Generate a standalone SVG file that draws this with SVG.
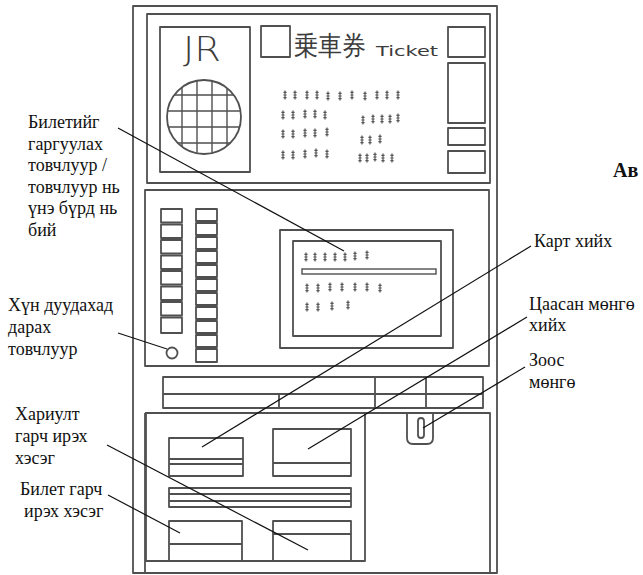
<svg xmlns="http://www.w3.org/2000/svg" xmlns:xlink="http://www.w3.org/1999/xlink" width="643" height="575" viewBox="0 0 643 575">
  <style>
    .sk { fill: none; stroke: #505050; stroke-width: 1.8; stroke-linejoin: round; }
    .thin { fill: none; stroke: #505050; stroke-width: 1.4; }
    .lead { fill: none; stroke: #111; stroke-width: 1.2; }
    .lbl { font-family: "Liberation Serif", "Times New Roman", serif; font-size: 18px; fill: #111; }
    .hand { font-family: "DejaVu Sans", "Liberation Sans", sans-serif; fill: #3c3c3c; }
  </style>
  <defs>
    <!-- small squiggle standing for printed characters -->
    <g id="mk">
      <path d="M0,-4.5 V4.5 M-1.6,-2.6 H1.6 M-1.6,0 H1.6 M-1.6,2.6 H1.6" fill="none" stroke="#555" stroke-width="1.2"/>
    </g>
    <clipPath id="globe">
      <circle cx="204" cy="117" r="37"/>
    </clipPath>
  </defs>

  <rect width="643" height="575" fill="#fff"/>

  <!-- machine body -->
  <g id="body">
    <rect class="sk" x="133" y="6" width="364" height="567"/>
  </g>

  <!-- upper panel: logo, title, fare table -->
  <g id="top-panel">
    <rect class="sk" x="147" y="14" width="343" height="169"/>
    <rect class="sk" x="160" y="27" width="90" height="145"/>
    <text class="hand" x="183" y="61" font-size="34" textLength="38" lengthAdjust="spacingAndGlyphs" font-weight="300">JR</text>
    <g clip-path="url(#globe)" class="thin">
      <path d="M182,70 V165 M197,70 V165 M212,70 V165 M227,70 V165 M160,95 H250 M160,111 H250 M160,127 H250 M160,143 H250"/>
    </g>
    <circle class="sk" cx="204" cy="117" r="37"/>
    <rect class="sk" x="261" y="26" width="29" height="31"/>
    <text class="hand" x="294" y="55" font-size="27" textLength="72" lengthAdjust="spacingAndGlyphs" font-family="'Noto Sans CJK JP', sans-serif">乗車券</text>
    <text class="hand" x="376" y="56" font-size="14" textLength="62" lengthAdjust="spacingAndGlyphs">Ticket</text>
    <rect class="sk" x="448" y="27" width="37" height="30"/>
    <rect class="sk" x="448" y="63" width="37" height="60"/>
    <rect class="sk" x="448" y="128" width="37" height="17"/>
    <rect class="sk" x="448" y="151" width="37" height="22"/>
    <g id="fare-table">
      <use xlink:href="#mk" x="285" y="95"/><use xlink:href="#mk" x="295" y="95"/><use xlink:href="#mk" x="307" y="95"/><use xlink:href="#mk" x="317" y="95"/><use xlink:href="#mk" x="328" y="96"/><use xlink:href="#mk" x="340" y="96"/><use xlink:href="#mk" x="352" y="95"/><use xlink:href="#mk" x="365" y="96"/><use xlink:href="#mk" x="377" y="95"/><use xlink:href="#mk" x="387" y="95"/><use xlink:href="#mk" x="398" y="95"/>
      <use xlink:href="#mk" x="283" y="115"/><use xlink:href="#mk" x="293" y="115"/><use xlink:href="#mk" x="305" y="114"/><use xlink:href="#mk" x="315" y="114"/><use xlink:href="#mk" x="325" y="115"/>
      <use xlink:href="#mk" x="363" y="120"/><use xlink:href="#mk" x="373" y="119"/><use xlink:href="#mk" x="382" y="119"/><use xlink:href="#mk" x="390" y="119"/><use xlink:href="#mk" x="398" y="118"/>
      <use xlink:href="#mk" x="283" y="134"/><use xlink:href="#mk" x="293" y="134"/><use xlink:href="#mk" x="305" y="133"/><use xlink:href="#mk" x="315" y="133"/><use xlink:href="#mk" x="327" y="132"/>
      <use xlink:href="#mk" x="362" y="140"/><use xlink:href="#mk" x="370" y="140"/><use xlink:href="#mk" x="380" y="139"/>
      <use xlink:href="#mk" x="283" y="155"/><use xlink:href="#mk" x="293" y="155"/><use xlink:href="#mk" x="305" y="154"/><use xlink:href="#mk" x="316" y="153"/><use xlink:href="#mk" x="327" y="154"/>
      <use xlink:href="#mk" x="360" y="158"/><use xlink:href="#mk" x="367" y="158"/><use xlink:href="#mk" x="375" y="157"/><use xlink:href="#mk" x="383" y="158"/><use xlink:href="#mk" x="392" y="158"/>
    </g>
  </g>

  <!-- middle panel: fare buttons, call button, display -->
  <g id="middle-panel">
    <rect class="sk" x="145" y="190" width="344" height="176"/>
    <g id="fare-buttons-left" class="sk">
      <rect x="161" y="209" width="21" height="13.5"/>
      <rect x="161" y="224.5" width="21" height="13.5"/>
      <rect x="161" y="240" width="21" height="13.5"/>
      <rect x="161" y="255.5" width="21" height="13.5"/>
      <rect x="161" y="271" width="21" height="13.5"/>
      <rect x="161" y="286.5" width="21" height="13.5"/>
      <rect x="161" y="302" width="21" height="13.5"/>
      <rect x="161" y="317.5" width="21" height="15.5"/>
    </g>
    <g id="fare-buttons-right" class="sk">
      <rect x="196" y="209" width="21" height="12"/>
      <rect x="196" y="223" width="21" height="12"/>
      <rect x="196" y="237" width="21" height="12"/>
      <rect x="196" y="251" width="21" height="12"/>
      <rect x="196" y="265" width="21" height="12"/>
      <rect x="196" y="279" width="21" height="12"/>
      <rect x="196" y="293" width="21" height="12"/>
      <rect x="196" y="307" width="21" height="12"/>
      <rect x="196" y="321" width="21" height="12"/>
      <rect x="196" y="335" width="21" height="12"/>
      <rect x="196" y="349" width="21" height="13"/>
    </g>
    <circle class="sk" cx="172" cy="353" r="5.5"/>
    <g id="display">
      <rect class="sk" x="280" y="230" width="173" height="118"/>
      <rect class="sk" x="293" y="241" width="148" height="95"/>
      <rect class="thin" x="302" y="269" width="134" height="5"/>
      <use xlink:href="#mk" x="306" y="257"/><use xlink:href="#mk" x="315" y="257"/><use xlink:href="#mk" x="325" y="257"/><use xlink:href="#mk" x="335" y="257"/><use xlink:href="#mk" x="345" y="257"/><use xlink:href="#mk" x="355" y="256"/><use xlink:href="#mk" x="367" y="255"/>
      <use xlink:href="#mk" x="307" y="288"/><use xlink:href="#mk" x="318" y="288"/><use xlink:href="#mk" x="330" y="287"/><use xlink:href="#mk" x="342" y="287"/><use xlink:href="#mk" x="355" y="287"/><use xlink:href="#mk" x="367" y="287"/><use xlink:href="#mk" x="380" y="288"/>
      <use xlink:href="#mk" x="307" y="307"/><use xlink:href="#mk" x="318" y="307"/><use xlink:href="#mk" x="332" y="306"/><use xlink:href="#mk" x="348" y="305"/>
    </g>
  </g>

  <!-- ledge between panels -->
  <g id="ledge">
    <rect class="sk" x="163" y="377" width="320" height="31"/>
    <path class="sk" d="M163,394 H483 M375,377 V408 M426,377 V408 M279,394 V408"/>
  </g>

  <!-- coin slot -->
  <g id="coin-slot">
    <path class="sk" d="M407,414 V438 Q407,444 413,444 H427 Q433,444 433,438 V414"/>
    <rect class="sk" x="418" y="418" width="6" height="20" rx="3"/>
  </g>

  <!-- lower section: card slot, note slot, change and ticket trays -->
  <g id="lower-panel">
    <path class="sk" d="M145,413 H490 V572 M145,413 V572"/>
    <path class="sk" d="M146,413 V561 H365 V413"/>
    <rect class="sk" x="169" y="438" width="74" height="38"/>
    <path class="sk" d="M169,459 H243 M169,464 H243"/>
    <rect class="sk" x="273" y="429" width="78" height="47"/>
    <path class="sk" d="M273,463 H351"/>
    <rect class="sk" x="169" y="488" width="182" height="19"/>
    <path class="sk" d="M169,494 H351 M169,501 H351"/>
    <path class="sk" d="M169,561 V521 H242 V561 M169,544 H242"/>
    <path class="sk" d="M273,561 V521 H351 V561 M273,534 H351"/>
  </g>

  <!-- leader lines -->
  <g id="connectors" class="lead">
    <line x1="118" y1="128" x2="344" y2="251"/>
    <line x1="118" y1="333" x2="167" y2="349"/>
    <line x1="531" y1="246" x2="202" y2="447"/>
    <line x1="527" y1="317" x2="308" y2="449"/>
    <line x1="525" y1="367" x2="423" y2="428"/>
    <line x1="107" y1="445" x2="308" y2="550"/>
    <line x1="108" y1="495" x2="180" y2="533"/>
  </g>

  <!-- labels -->
  <g id="label-ticket-buttons" class="lbl">
    <text x="28" y="128">Билетийг</text>
    <text x="28" y="149.5">гаргуулах</text>
    <text x="28" y="171">товчлуур /</text>
    <text x="28" y="192.5">товчлуур нь</text>
    <text x="28" y="214">үнэ бүрд нь</text>
    <text x="28" y="235.5">бий</text>
  </g>
  <g id="label-call-button" class="lbl">
    <text x="8" y="311">Хүн дуудахад</text>
    <text x="8" y="333">дарах</text>
    <text x="8" y="355">товчлуур</text>
  </g>
  <g id="label-card" class="lbl">
    <text x="534" y="247">Карт хийх</text>
  </g>
  <g id="label-notes" class="lbl">
    <text x="529" y="310">Цаасан мөнгө</text>
    <text x="529" y="331">хийх</text>
  </g>
  <g id="label-coins" class="lbl">
    <text x="529" y="366">Зоос</text>
    <text x="529" y="388">мөнгө</text>
  </g>
  <g id="label-change" class="lbl">
    <text x="15" y="420">Хариулт</text>
    <text x="15" y="442">гарч ирэх</text>
    <text x="15" y="464">хэсэг</text>
  </g>
  <g id="label-ticket-out" class="lbl">
    <text x="20" y="495">Билет гарч</text>
    <text x="24" y="517">ирэх хэсэг</text>
  </g>
  <g id="title" class="lbl">
    <text x="613" y="177" font-weight="bold" font-size="20">Ав</text>
  </g>
</svg>
